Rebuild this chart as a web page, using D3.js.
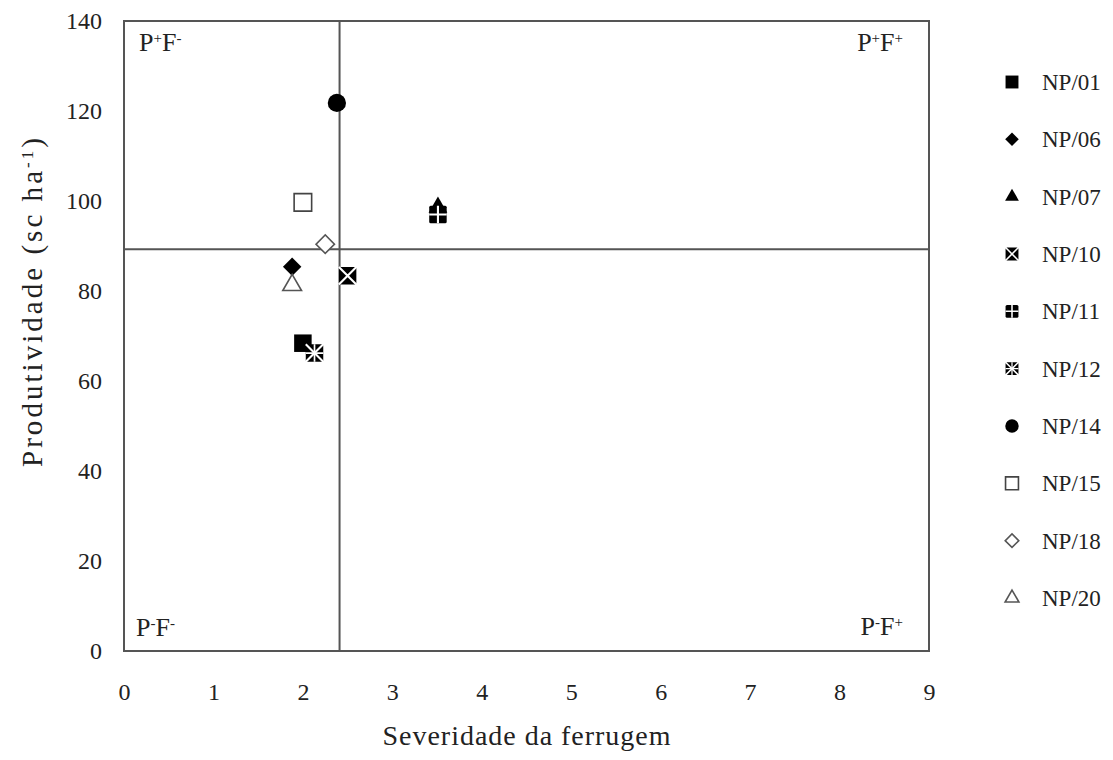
<!DOCTYPE html>
<html>
<head>
<meta charset="utf-8">
<script src="https://cdn.jsdelivr.net/npm/d3@7"></script>
<style>
  body { margin: 0; background: #fff; }
  svg text { font-family: "Liberation Serif", "Times New Roman", serif; fill: #222; }
</style>
</head>
<body>
<script>
// genotypes, rust severity (x) and yield (y)
var genotypes = ["NP/01", "NP/06", "NP/07", "NP/10", "NP/11", "NP/12", "NP/14", "NP/15", "NP/18", "NP/20"];
var severity = [2.0, 1.88, 3.51, 2.5, 3.51, 2.13, 2.38, 2.0, 2.25, 1.88];
var yieldSc = [68.4, 85.4, 98.6, 83.4, 97.0, 66.2, 121.8, 99.7, 90.4, 81.3];
// the two reference lines splitting the quadrants
var meanSeverity = 2.41;
var meanYield = 89.3;
var xTicks = [0, 1, 2, 3, 4, 5, 6, 7, 8, 9];
var yTicks = [0, 20, 40, 60, 80, 100, 120, 140];

var data = genotypes.map(function(g, i) {
    return { name: g, x: severity[i], y: yieldSc[i] };
});

// marker style per genotype
var markerType = {
    "NP/01": "square", "NP/06": "diamond", "NP/07": "triangle", "NP/10": "boxX",
    "NP/11": "quad", "NP/12": "star", "NP/14": "circle", "NP/15": "openSquare",
    "NP/18": "openDiamond", "NP/20": "openTriangle"
};

var margin = { top: 21, right: 184, bottom: 109, left: 124 };
var W = 1113, H = 760;
var width = W - margin.left - margin.right;
var height = H - margin.top - margin.bottom;

var svg = d3.select("body").append("svg")
    .attr("width", W)
    .attr("height", H);

var g = svg.append("g")
    .attr("transform", "translate(" + margin.left + "," + margin.top + ")");

var x = d3.scaleLinear().domain([0, 9]).range([0, width]);
var y = d3.scaleLinear().domain([0, 140]).range([height, 0]);

// axes without tick marks
var xAxis = d3.axisBottom(x).tickValues(xTicks).tickSize(0).tickPadding(32);
var yAxis = d3.axisLeft(y).tickValues(yTicks).tickSize(0).tickPadding(22);

g.append("g").attr("class", "x-axis")
    .attr("transform", "translate(0," + height + ")")
    .call(xAxis);
g.append("g").attr("class", "y-axis")
    .call(yAxis);

g.selectAll(".domain").remove();
g.selectAll(".tick text").style("font-size", "24px").attr("fill", "#222");

// frame
g.append("rect")
    .attr("width", width).attr("height", height)
    .attr("fill", "none").attr("stroke", "#555").attr("stroke-width", 2);

// quadrant lines
g.append("line")
    .attr("x1", x(meanSeverity)).attr("x2", x(meanSeverity))
    .attr("y1", 0).attr("y2", height)
    .attr("stroke", "#555").attr("stroke-width", 2);
g.append("line")
    .attr("x1", 0).attr("x2", width)
    .attr("y1", y(meanYield)).attr("y2", y(meanYield))
    .attr("stroke", "#555").attr("stroke-width", 2);

// quadrant labels
function quadLabel(px, py, anchor, s1, s2) {
    var t = g.append("text")
        .attr("x", px).attr("y", py)
        .attr("text-anchor", anchor)
        .style("font-size", "26px");
    t.append("tspan").text("P");
    t.append("tspan").attr("baseline-shift", "super").style("font-size", "15px").text(s1);
    t.append("tspan").text("F");
    t.append("tspan").attr("baseline-shift", "super").style("font-size", "15px").text(s2);
}
quadLabel(15, 30, "start", "+", "-");
quadLabel(width - 26, 30, "end", "+", "+");
quadLabel(12, height - 15, "start", "-", "-");
quadLabel(width - 26, height - 16, "end", "-", "+");

// draw a marker of a given type and size into a group
function drawMarker(sel, type, s) {
    var sym = d3.symbol();
    var half = s / 2;
    if (type === "square" || type === "openSquare") {
        sel.append("path").attr("d", sym.type(d3.symbolSquare).size(s * s * 0.85)())
            .attr("fill", type === "square" ? "#000" : "#fff")
            .attr("stroke", type === "square" ? "#000" : "#444")
            .attr("stroke-width", type === "square" ? 0 : 1.6);
    } else if (type === "diamond" || type === "openDiamond") {
        sel.append("path").attr("d", sym.type(d3.symbolSquare).size(s * s * 0.47)())
            .attr("transform", "rotate(45)")
            .attr("fill", type === "diamond" ? "#000" : "#fff")
            .attr("stroke", type === "diamond" ? "#000" : "#555")
            .attr("stroke-width", type === "diamond" ? 0 : 1.6);
    } else if (type === "triangle" || type === "openTriangle") {
        sel.append("path").attr("d", sym.type(d3.symbolTriangle).size(s * s * 0.42)())
            .attr("fill", type === "triangle" ? "#000" : "#fff")
            .attr("stroke", type === "triangle" ? "#000" : "#555")
            .attr("stroke-width", type === "triangle" ? 0 : 1.6);
    } else if (type === "circle") {
        sel.append("circle").attr("r", s * 0.48).attr("fill", "#000");
    } else {
        var h = half * 0.92;
        sel.append("rect").attr("x", -h).attr("y", -h)
            .attr("width", 2 * h).attr("height", 2 * h).attr("rx", 1.5)
            .attr("fill", "#000");
        var lw = Math.max(1.5, s * 0.11);
        if (type === "boxX" || type === "star") {
            sel.append("path")
                .attr("d", "M" + (-h) + "," + (-h) + "L" + h + "," + h +
                    "M" + h + "," + (-h) + "L" + (-h) + "," + h)
                .attr("stroke", "#fff").attr("stroke-width", lw);
        }
        if (type === "quad" || type === "star") {
            sel.append("path")
                .attr("d", "M0," + (-h) + "L0," + h + "M" + (-h) + ",0L" + h + ",0")
                .attr("stroke", "#fff").attr("stroke-width", type === "star" ? lw * 0.8 : lw);
        }
    }
}

// points
g.selectAll(".pt")
    .data(data)
    .enter()
    .append("g")
    .attr("class", "pt")
    .attr("transform", function(d) { return "translate(" + x(d.x) + "," + y(d.y) + ")"; })
    .each(function(d) { drawMarker(d3.select(this), markerType[d.name], 19); });

// legend
var legendY = d3.scalePoint().domain(genotypes).range([82, 598]);
var leg = svg.append("g").attr("class", "legend");
var items = leg.selectAll(".item")
    .data(genotypes)
    .enter()
    .append("g")
    .attr("class", "item")
    .attr("transform", function(d) { return "translate(1012," + legendY(d) + ")"; });
items.each(function(d) { drawMarker(d3.select(this), markerType[d], 14); });
items.append("text")
    .attr("x", 30).attr("dy", "0.35em")
    .style("font-size", "23px")
    .text(function(d) { return d; });

// stretch a title to the width it has in the figure
function spreadTo(t, target) {
    var node = t.node();
    var n = node.textContent.length;
    var natural = node.getComputedTextLength();
    t.style("letter-spacing", Math.max(0, (target - natural) / n) + "px");
}

// axis titles
var xt = svg.append("text")
    .attr("x", 527)
    .attr("y", 745)
    .attr("text-anchor", "middle")
    .style("font-size", "28px")
    .text("Severidade da ferrugem");
spreadTo(xt, 289);

var yt = svg.append("text")
    .attr("transform", "translate(42,301) rotate(-90)")
    .attr("text-anchor", "middle")
    .style("font-size", "29px");
yt.append("tspan").text("Produtividade (sc ha");
yt.append("tspan").attr("baseline-shift", "super").style("font-size", "17px").text("-1");
yt.append("tspan").text(")");
spreadTo(yt, 332);
</script>
</body>
</html>
